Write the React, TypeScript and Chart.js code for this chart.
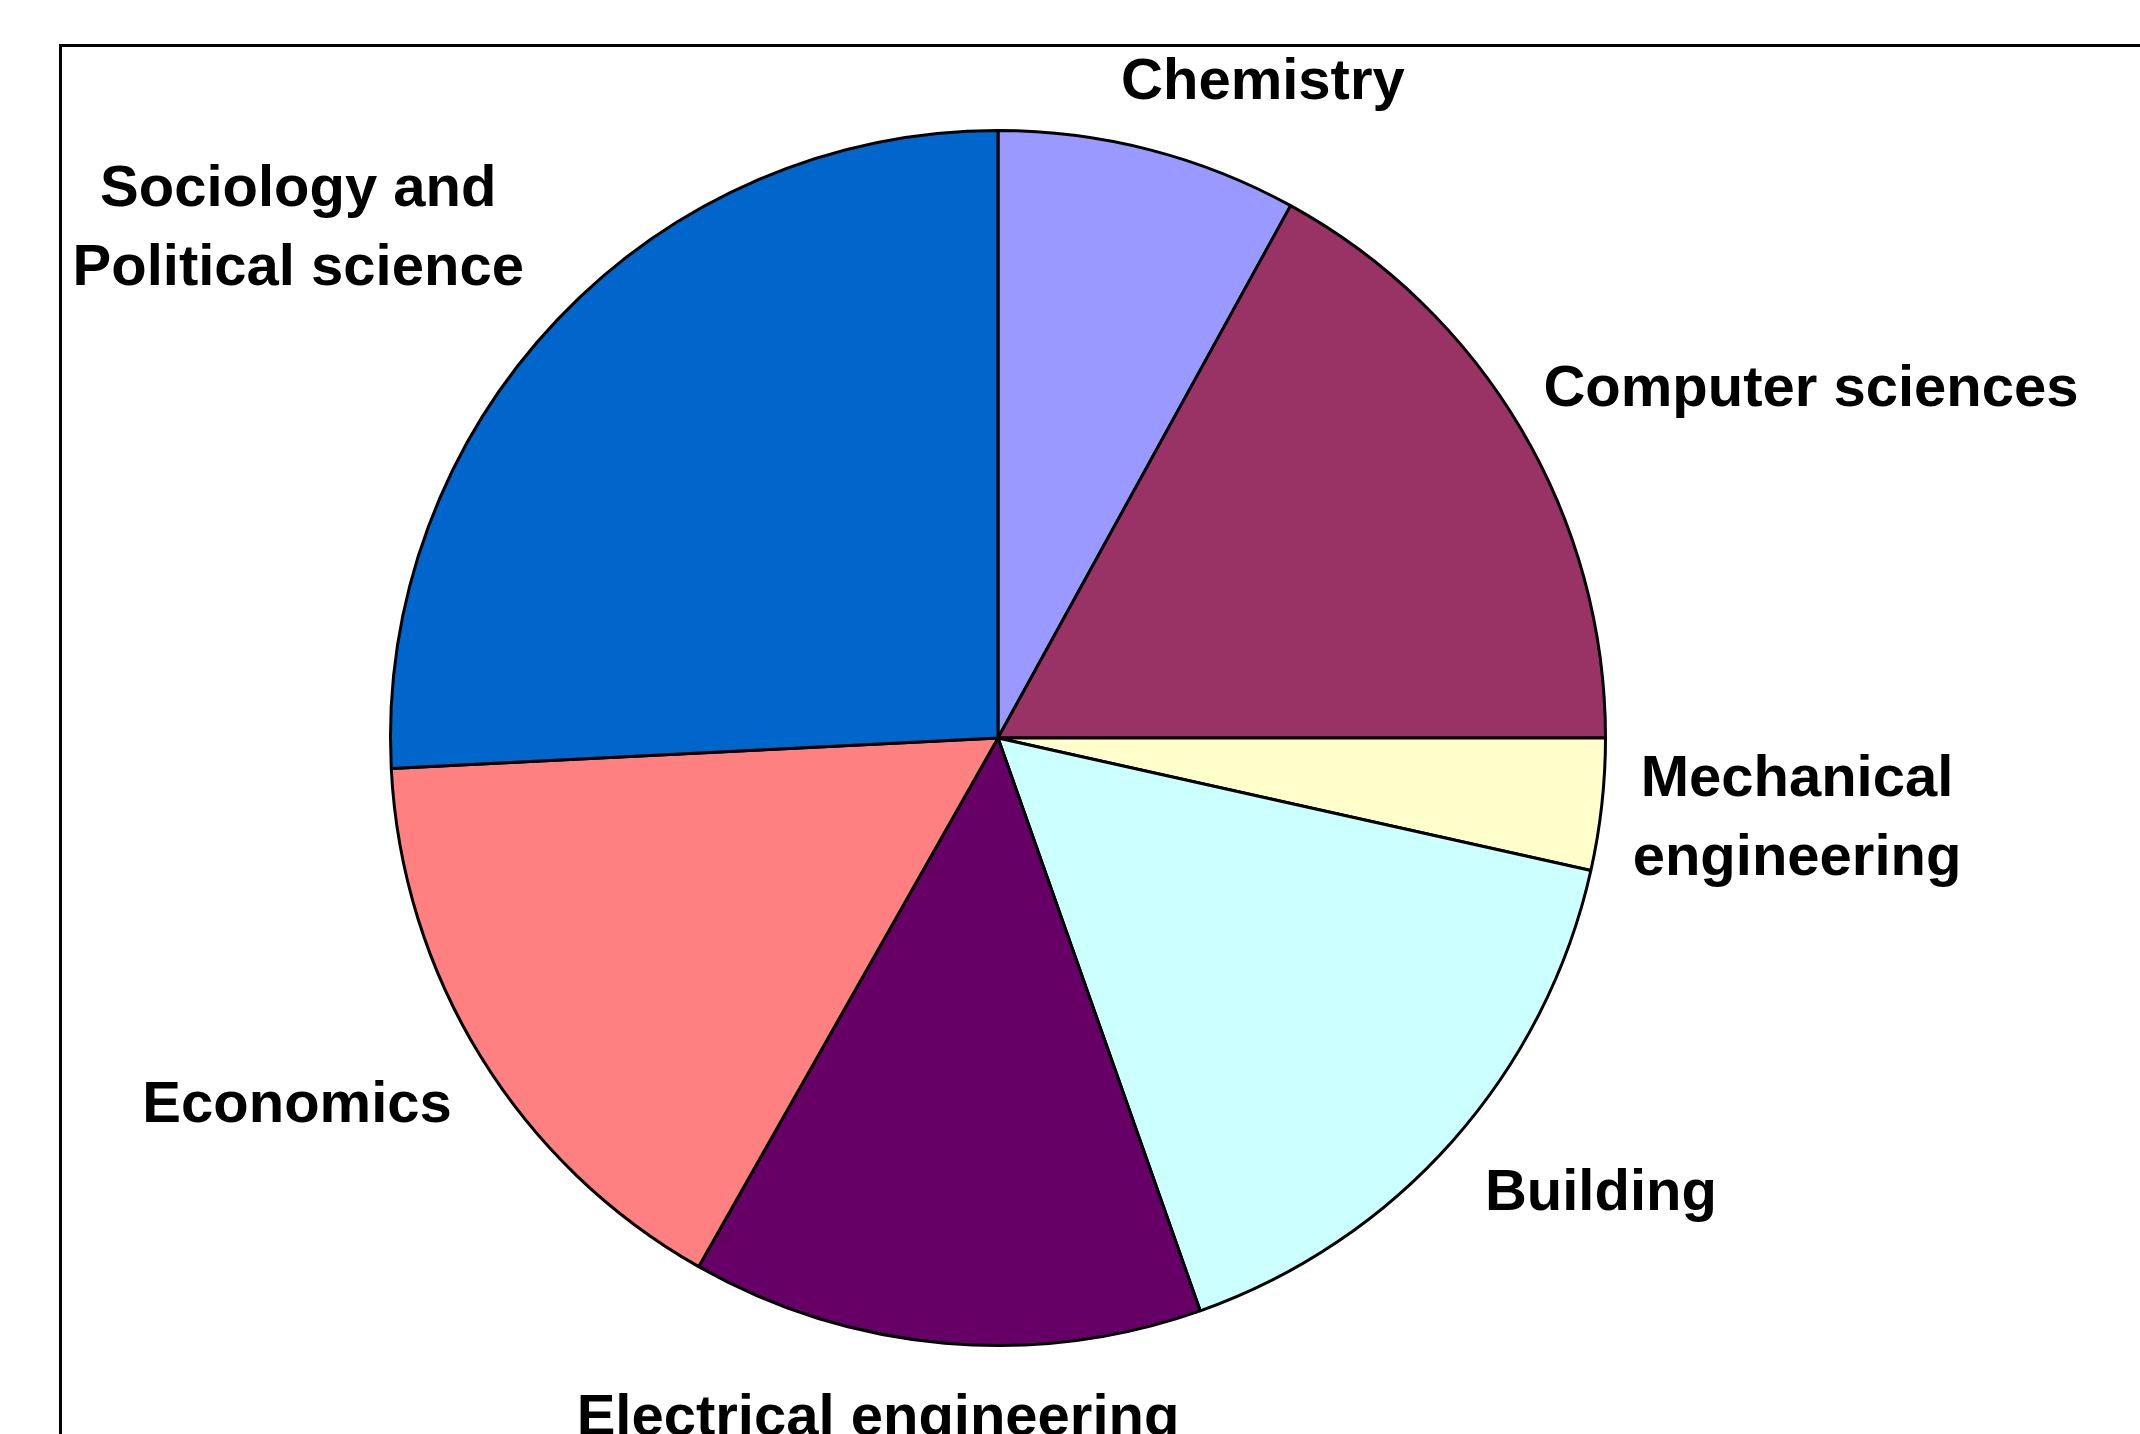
import React, { useEffect, useRef } from "react";
import { Chart, registerables } from "chart.js";

Chart.register(...registerables);

// ---- data ----
const categories: string[] = [
  "Chemistry",
  "Computer sciences",
  "Mechanical engineering",
  "Building",
  "Electrical engineering",
  "Economics",
  "Sociology and Political science",
];
const shares: number[] = [8.0, 17.0, 3.5, 16.1, 13.6, 16.0, 25.8];
const labelLines: string[][] = [
  ["Chemistry"],
  ["Computer sciences"],
  ["Mechanical", "engineering"],
  ["Building"],
  ["Electrical engineering"],
  ["Economics"],
  ["Sociology and", "Political science"],
];

// ---- style ----
const sliceColors: string[] = [
  "#9999FF",
  "#993366",
  "#FFFFCC",
  "#CCFFFF",
  "#660066",
  "#FF8080",
  "#0066CC",
];
// label placement relative to the pie centre, in units of the pie radius
// (x = text centre, y = first baseline)
const labelOffsets: { dx: number; dy: number }[] = [
  { dx: 0.435, dy: -1.049 },
  { dx: 1.335, dy: -0.545 },
  { dx: 1.312, dy: 0.095 },
  { dx: 0.99, dy: 0.775 },
  { dx: -0.197, dy: 1.1445 },
  { dx: -1.151, dy: 0.6305 },
  { dx: -1.149, dy: -0.8736 },
];
const W = 2140;
const H = 1434;
const FONT = "bold 58px 'Liberation Sans', Arial, sans-serif";
const LINE_H = 79;
const BORDER_W = 3;

const labelPlugin = {
  id: "excelLabels",
  afterDraw(chart: any) {
    const ctx = chart.ctx as CanvasRenderingContext2D;
    ctx.save();
    // chart frame (top and left edges visible)
    ctx.strokeStyle = "#000";
    ctx.lineWidth = 3;
    ctx.beginPath();
    ctx.moveTo(59, 45.5);
    ctx.lineTo(W + 5, 45.5);
    ctx.moveTo(60.5, 44);
    ctx.lineTo(60.5, H + 5);
    ctx.stroke();

    const meta = chart.getDatasetMeta(0);
    ctx.fillStyle = "#000";
    ctx.font = FONT;
    ctx.textAlign = "center";
    ctx.textBaseline = "alphabetic";
    meta.data.forEach((arc: any, i: number) => {
      const R = arc.outerRadius + BORDER_W / 2;
      const off = labelOffsets[i];
      const x = arc.x + off.dx * R;
      const y = arc.y + off.dy * R;
      labelLines[i].forEach((line, j) => {
        ctx.fillText(line, x, y + j * LINE_H);
      });
    });
    ctx.restore();
  },
};

export default function App() {
  const ref = useRef<HTMLCanvasElement | null>(null);
  useEffect(() => {
    if (!ref.current) return;
    const chart = new Chart(ref.current, {
      type: "pie",
      data: {
        labels: categories,
        datasets: [
          {
            data: shares,
            backgroundColor: sliceColors,
            borderColor: "#000000",
            borderWidth: BORDER_W,
            hoverOffset: 0,
          },
        ],
      },
      options: {
        animation: false,
        responsive: false,
        devicePixelRatio: 1,
        events: [],
        layout: {
          padding: { left: 389, right: W - 1607, top: 129, bottom: H - 1347 },
        },
        plugins: {
          legend: { display: false },
          tooltip: { enabled: false },
        },
      },
      plugins: [labelPlugin],
    });
    return () => chart.destroy();
  }, []);
  return (
    <div
      style={{
        position: "absolute",
        left: 0,
        top: 0,
        width: W,
        height: H,
        background: "#fff",
        overflow: "hidden",
      }}
    >
      <canvas ref={ref} width={W} height={H} style={{ width: W, height: H, display: "block" }} />
    </div>
  );
}
